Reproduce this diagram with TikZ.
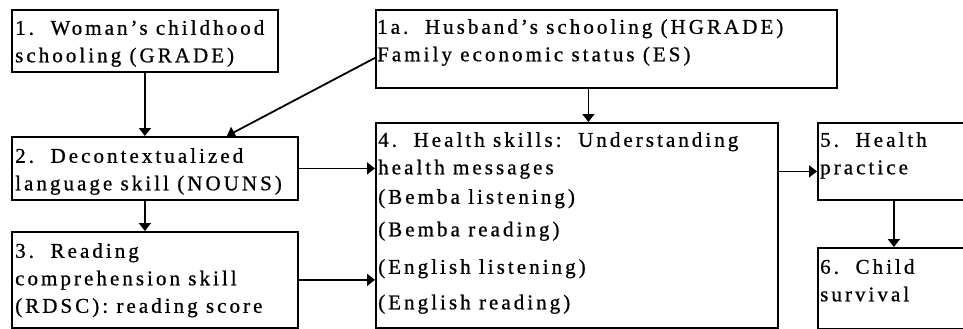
\documentclass[tikz,border=0pt]{standalone}
\usepackage{fontspec}
\setmainfont[LetterSpace=14.5,FakeBold=0.8]{Liberation Serif}
\usetikzlibrary{arrows.meta}

\begin{document}
\begin{tikzpicture}[
x=1pt, y=-1pt,
box/.style={
draw,
line width=1.8pt,
anchor=north west,
inner sep=0pt
},
txt/.style={
anchor=north west,
align=left,
inner sep=0pt,
font=\fontsize{21}{27.5}\selectfont
},
arr/.style={
line width=1.8pt,
-{Triangle[length=8pt,width=12pt]}
}
]
\useasboundingbox (0,0) rectangle (963,329);

\node[box, minimum width=266, minimum height=62] (grade) at (11,9) {};
\node[box, minimum width=461, minimum height=78] (hgrade) at (375,9) {};
\node[box, minimum width=286, minimum height=63] (nouns) at (11,136) {};
\node[box, minimum width=286, minimum height=96] (rdsc) at (11,231) {};
\node[box, minimum width=402, minimum height=205] (skills) at (375,122) {};
\node[box, minimum width=152, minimum height=77] (practice) at (817,122) {};
\node[box, minimum width=152, minimum height=81] (survival) at (817,247) {};

\node[txt] (t1) at ([shift={(4,11)}]grade.north west) {1.\ \ Woman’s childhood\\schooling (GRADE)};
\node[txt] (t1a) at ([shift={(2,10)}]hgrade.north west) {1a.\ \ Husband’s schooling (HGRADE)\\Family economic status (ES)};
\node[txt] (t2) at ([shift={(4,12)}]nouns.north west) {2.\ \ Decontextualized\\language skill (NOUNS)};
\node[txt] (t3) at ([shift={(4,12)}]rdsc.north west) {3.\ \ Reading\\comprehension skill\\(RDSC): reading score};
\node[txt] (t4) at ([shift={(3,10)}]skills.north west) {4.\ \ Health skills:\ \ Understanding\\health messages\\[2pt](Bemba listening)\\[5pt](Bemba reading)\\[10pt](English listening)\\[8pt](English reading)};
\node[txt] (t5) at ([shift={(3,10)}]practice.north west) {5.\ \ Health\\practice};
\node[txt] (t6) at ([shift={(3,12)}]survival.north west) {6.\ \ Child\\survival};

\draw[arr] (grade.south) -- (grade.south |- nouns.north);
\draw[arr] ([yshift=-9]hgrade.west) -- ([xshift=72]nouns.north);
\draw[arr] ([xshift=-18]hgrade.south) -- ([xshift=-18]hgrade.south |- skills.north);
\draw[arr] (nouns.east) -- (nouns.east -| skills.west);
\draw[arr] (grade.south |- nouns.south) -- (grade.south |- rdsc.north);
\draw[arr] (rdsc.east) -- (rdsc.east -| skills.west);
\draw[arr] ([yshift=-10]practice.west -| skills.east) -- ([yshift=-10]practice.west);
\draw[arr] (practice.south) -- (practice.south |- survival.north);

\end{tikzpicture}
\end{document}
